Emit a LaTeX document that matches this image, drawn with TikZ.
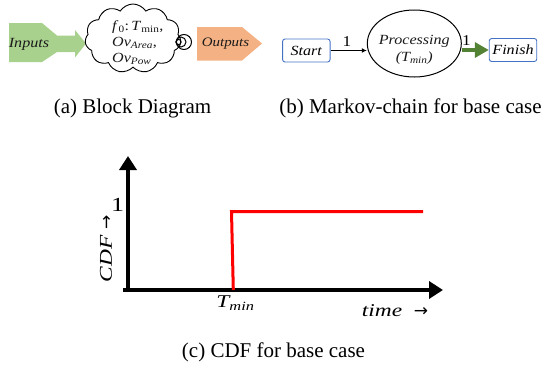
\documentclass[tikz,border=0pt]{standalone}
\usepackage{fontspec}
\setmainfont{Liberation Serif}
\newfontfamily\tnr{Liberation Serif}
\newfontfamily\camb[FakeStretch=1.15]{Liberation Serif}
\newfontfamily\cambw[FakeStretch=1.3]{Liberation Serif}
\newfontfamily\dvsans{DejaVu Sans}
\usetikzlibrary{shapes.geometric,shapes.symbols,arrows.meta}
\definecolor{ingreen}{HTML}{A9D18E}
\definecolor{outorange}{HTML}{F4B183}
\definecolor{boxblue}{HTML}{4472C4}
\definecolor{arrgreen}{HTML}{548235}
\definecolor{txtdark}{HTML}{1A1A1A}
\tikzset{
  lbl/.style={inner sep=0pt, font=\camb\itshape\fontsize{14}{15}\selectfont, text=txtdark},
  numlbl/.style={inner sep=0pt, font=\camb\fontsize{15}{15}\selectfont},
  caption/.style={inner sep=0pt, anchor=base, font=\tnr\fontsize{21}{24}\selectfont},
  statebox/.style={draw=boxblue, line width=0.9pt, rounded corners=2.5pt, fill=white,
    minimum width=47.5pt, minimum height=23pt, inner sep=0pt,
    font=\camb\itshape\fontsize{14}{15}\selectfont},
  axis/.style={line width=4pt, -{Triangle[length=14pt,width=17pt]}},
  plotlbl/.style={inner sep=0pt, font=\cambw\itshape\fontsize{18}{19}\selectfont}
}
\begin{document}
\begin{tikzpicture}[x=1pt,y=-1pt]
\useasboundingbox (0,0) rectangle (548,367);
% ---------- (a) block diagram ----------
\fill[ingreen] (9,23) -- (42,23) -- (57,35.5) -- (75,35.5) -- (75,30) -- (86,43.5)
  -- (75,57.5) -- (75,52) -- (57,52) -- (42,62) -- (9,62) -- cycle;
\node[lbl] (inputs) at (29,44) {Inputs};
\fill[outorange] (197,27) -- (242,27) -- (262,43.5) -- (242,60.5) -- (197,60.5) -- cycle;
\node[lbl, font=\camb\itshape\fontsize{13}{15}\selectfont] (outputs) at (225.5,44) {Outputs};
\node[cloud, cloud puffs=11, cloud puff arc=115, cloud ignores aspect, draw=black,
  line width=0.9pt, fill=white, minimum width=96pt, minimum height=69pt, inner sep=0pt]
  (cloud) at (133,38.5) {};
\node[inner sep=0pt, align=left, anchor=west, text=txtdark,
  font=\camb\fontsize{14}{16}\selectfont] (cloudtxt) at (112,42.5)
  {\textit{f}\textsubscript{0}:\,\textit{T}\textsubscript{min},\\
   \textit{Ov}\textsubscript{\textit{Area}},\\
   \textit{Ov}\textsubscript{\textit{Pow}}};
\draw[line width=1pt] (184,42) circle (7.5);
\draw[line width=1pt] (181,42) circle (5);
\draw[line width=1pt] (178.5,42) circle (2.6);
\node[caption] (capa) at (132.5,113) {(a) Block Diagram};
% ---------- (b) Markov chain ----------
\node[statebox] (start) at (306.3,50.5) {Start};
\node[statebox] (finish) at (513,50) {Finish};
\node[ellipse, draw=black, line width=1pt, minimum width=94pt, minimum height=67pt,
  inner sep=0pt] (proc) at (414.3,43.5) {};
\node[lbl, text=txtdark, align=center, font=\camb\itshape\fontsize{14}{17}\selectfont]
  (proctxt) at (414.3,49.5) {Processing\\(\textit{T}\textsubscript{\textit{min}})};
\draw[line width=1.8pt, -{Latex[length=5pt,width=5pt]}] (start.east) -- (start.east -| proc.west);
\node[numlbl] (one1) at (347,42) {1};
\draw[arrgreen, line width=4.5pt, -{Triangle[length=14pt,width=15pt]}]
  (finish.west -| proc.east) -- (finish.west);
\node[numlbl] (one2) at (466.5,41) {1};
\node[caption] (capb) at (410.5,113) {(b) Markov-chain for base case};
% ---------- (c) CDF ----------
\coordinate (ytip) at (128,156);
\coordinate (xtip) at (443,290);
\coordinate (ybot) at (128,292);
\coordinate (xleft) at (123,290);
\draw[axis] (ybot) -- (ytip);
\draw[axis] (xleft) -- (xtip);
\coordinate (rbot) at (233.3,290);
\coordinate (rtop) at (231.5,211.5);
\coordinate (rend) at (423,211.5);
\draw[red, line width=3pt, line join=miter] (rbot) -- (rtop) -- (rend);
\node[plotlbl, font=\cambw\fontsize{20}{20}\selectfont] (one3) at (117.5,205) {1};
\node[plotlbl, rotate=90] (cdf) at (106,249) {CDF {\upshape\dvsans\fontsize{17}{17}\selectfont →}};
\node[plotlbl] (tmin) at (235.5,303) {T\textsubscript{min}};
\node[plotlbl] (time) at (395,311) {time\ \ {\upshape\dvsans\fontsize{17}{17}\selectfont →}};
\node[caption] (capc) at (273.5,357) {(c) CDF for base case};
\end{tikzpicture}
\end{document}
